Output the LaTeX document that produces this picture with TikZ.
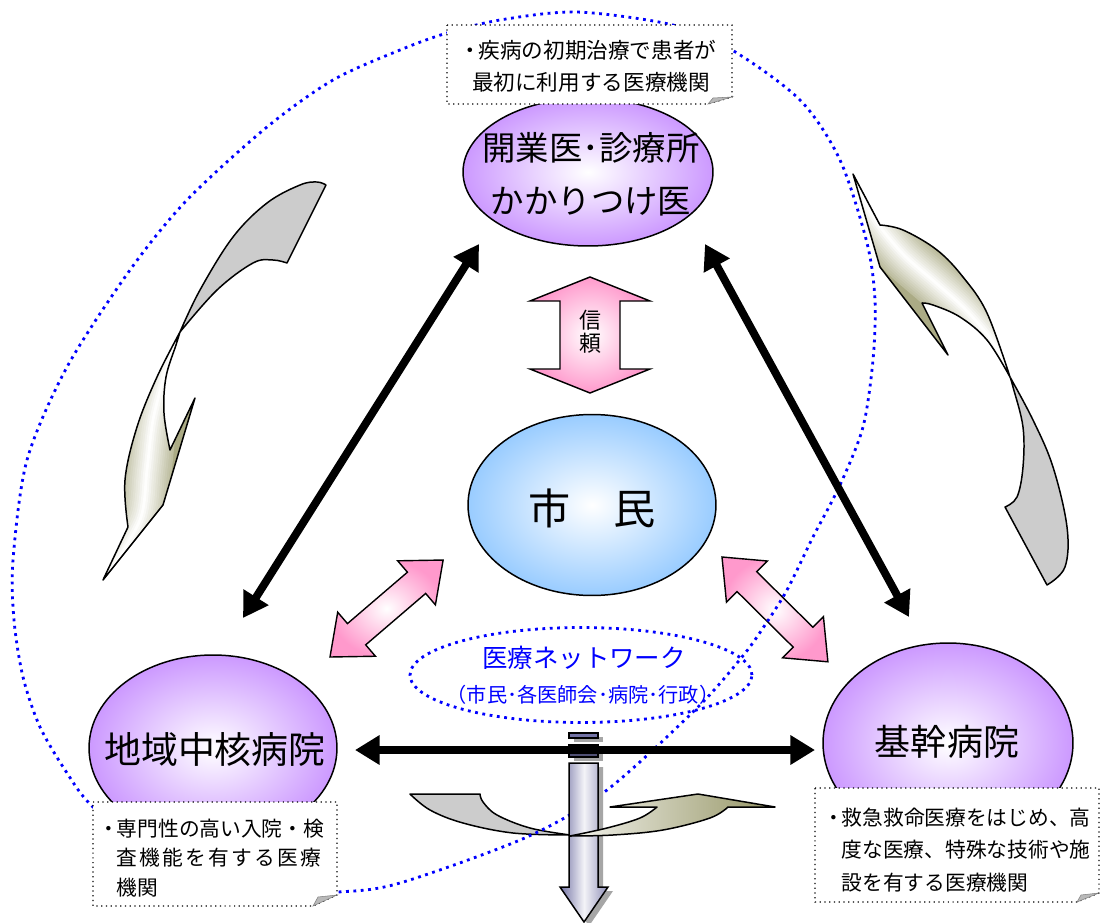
\documentclass[tikz,border=0pt]{standalone}
\usepackage{fontspec}
\setmainfont{Noto Sans CJK JP}
\usetikzlibrary{shapes.geometric,arrows.meta}
\definecolor{purp}{RGB}{204,153,255}
\definecolor{skyb}{RGB}{153,204,255}
\definecolor{pinkc}{RGB}{255,153,204}
\definecolor{olv}{RGB}{150,150,102}
\definecolor{grayc}{RGB}{204,204,204}
\definecolor{slate}{RGB}{115,115,165}
\definecolor{netblue}{RGB}{0,0,255}
\newcommand{\bul}{\makebox[0.6em][l]{\hspace*{-0.3em}・}}
\newcommand{\blockdbl}[6]{%
  \begin{scope}[shift={#1},rotate=#2]
    \shadedraw[pinkarr] (0,0) -- (#4,#5) -- (#4,#6) -- ({#3-#4},#6) -- ({#3-#4},#5) -- (#3,0)
      -- ({#3-#4},-#5) -- ({#3-#4},-#6) -- (#4,-#6) -- (#4,-#5) -- cycle;
  \end{scope}}
\def\lgreenpath{(180,332) -- plot[smooth,tension=0.6] coordinates {(180,332) (157,377) (137,427) (125,480) (128,527)} -- (103,580) -- (163,505) -- (195,398) -- (170,450) -- plot[smooth,tension=0.6] coordinates {(170,450) (164,413) (166,377) (176,345) (180,332)} -- cycle}
\def\rgreenpath{(853,174) -- (880,225) -- plot[smooth,tension=0.6] coordinates {(880,225) (903,230) (937,250) (963,277) (987,313) (1010,377)} -- plot[smooth,tension=0.6] coordinates {(1010,377) (987,340) (960,317) (933,305) (922,303)} -- (948,355) -- (880,267) -- cycle}
\def\vpath{(569,763) -- (598,763) -- (598,887) -- (608,887) -- (584,922) -- (560,887) -- (569,887) -- cycle}
\newcommand{\chsp}{\hspace{1.3pt}}
\begin{document}
\begin{tikzpicture}[x=0.02cm,y=-0.02cm,
  bigell/.style={ellipse, draw, line width=0.85pt, inner sep=0pt, inner color=white, outer color=purp},
  bluell/.style={ellipse, draw, line width=0.85pt, inner sep=0pt, inner color=white, outer color=skyb},
  blk/.style={line width=4.5pt, {Triangle[length=14pt,width=16pt]}-{Triangle[length=14pt,width=16pt]}},
  pinkarr/.style={draw, line width=0.8pt, line join=miter, inner color=white, outer color=pinkc},
  swoosh/.style={draw, line width=0.85pt, line join=round},
  netdots/.style={draw=netblue, line width=1.6pt, dash pattern=on 1.6pt off 2.6pt},
  callout/.style={draw, fill=white, line width=0.7pt, dotted},
  fold/.style={fill=gray!55, draw=gray, line width=0.3pt},
  labtxt/.style={inner sep=0pt, text=black},
  band/.style={line cap=round, line join=round},
]
\useasboundingbox (0,0) rectangle (1100,923);
\fill[white] (0,0) rectangle (1100,923);

% ---- left big swoosh
\draw[swoosh, fill=grayc] (326,185) -- (287,263) -- plot[smooth,tension=0.6] coordinates {(287,263) (273,260) (253,263) (217,290) (180,332)} -- plot[smooth,tension=0.6] coordinates {(180,332) (200,290) (233,237) (267,203) (300,185) (317,182) (326,185)} -- cycle;
\begin{scope}
  \clip \lgreenpath;
  \fill[white!20!olv] (90,320) rectangle (210,590);
  \foreach \i [evaluate=\i as \w using 28-2.4*\i, evaluate=\i as \p using int(38+5.6*\i)] in {0,...,11}
    \draw[band, line width=\w pt, color=white!\p!olv] plot[smooth] coordinates {(182,322) (166,370) (153,420) (147,470) (140,520) (105,580)};
\end{scope}
\draw[swoosh] \lgreenpath;

% ---- right big swoosh
\draw[swoosh, fill=grayc] (1010,377) -- plot[smooth,tension=0.6] coordinates {(1010,377) (1033,420) (1053,467) (1067,527) (1065,567) (1047,585)} -- (1005,507) -- plot[smooth,tension=0.6] coordinates {(1005,507) (1017,497) (1023,467) (1023,427) (1013,387) (1010,377)} -- cycle;
\begin{scope}
  \clip \rgreenpath;
  \fill[white!20!olv] (840,160) rectangle (1020,390);
  \foreach \i [evaluate=\i as \w using 28-2.4*\i, evaluate=\i as \p using int(38+5.6*\i)] in {0,...,11}
    \draw[band, line width=\w pt, color=white!\p!olv] plot[smooth] coordinates {(850,168) (872,215) (902,253) (936,283) (966,310) (995,345) (1014,385)};
\end{scope}
\draw[swoosh] \rgreenpath;

% ---- ellipses
\node[bigell, minimum width=5cm, minimum height=2.96cm] (clinic) at (588,172) {};
\node[bluell, minimum width=4.96cm, minimum height=3.62cm] (citizen) at (592,505) {};
\node[bigell, minimum width=4.96cm, minimum height=3.72cm] (region) at (213,748) {};
\node[bigell, minimum width=5cm, minimum height=4cm] (core) at (948,743) {};

\node[labtxt, font=\fontsize{19}{30}\selectfont, align=center] (clinicTxt) at (591,174) {開業医･診療所\\かかりつけ医};
\node[labtxt, font=\fontsize{24}{24}\selectfont] (citizenTxt) at (592,508) {市　民};
\node[labtxt, font=\fontsize{21}{21}\selectfont] (regionTxt) at (215,750) {地域中核病院};
\node[labtxt, font=\fontsize{20.5}{20.5}\selectfont] (coreTxt) at (947,742) {基幹病院};

% ---- pink double arrows
\blockdbl{(590,277)}{-90}{116}{24}{60}{30}
\node[labtxt, font=\fontsize{12.5}{13}\selectfont, align=center] (trustTxt) at (590,332) {信\\頼};
\blockdbl{(330,657)}{40.6}{149}{35}{29}{14}
\blockdbl{(722,557)}{-44.7}{149}{35}{29}{14}

% ---- network ellipse
\node[ellipse, netdots, minimum width=6.84cm, minimum height=1.9cm, inner sep=0pt] (net) at (581,675) {};
\node[inner sep=0pt, text=netblue, font=\fontsize{14.5}{14.5}\selectfont] (netTxt) at (584,658) {医療ネットワーク};
\node[inner sep=0pt, text=netblue, font=\fontsize{11.5}{11.5}\selectfont] (netSub) at (583,695) {（市民･各医師会･病院･行政）};

% ---- bottom curved arrow (left, gray)
\draw[swoosh, fill=grayc] (410,794) -- (480,794) -- plot[smooth,tension=0.6] coordinates {(480,794) (483,802) (497,815) (530,828) (570,835)} -- plot[smooth,tension=0.6] coordinates {(570,835) (513,833) (463,823) (430,810) (410,794)} -- cycle;

% ---- big dotted loop
\draw[netdots] plot[smooth cycle, tension=0.5] coordinates {(577,12) (673,25) (732,50) (800,100) (840,160) (867,243) (875,300) (873,360) (863,427) (840,485) (813,537) (787,590) (763,628) (742,657) (697,708) (607,790) (527,837) (400,883) (338,892) (250,893) (160,862) (93,807) (67,773) (40,727) (23,677) (14,620) (13,560) (27,460) (67,367) (130,270) (187,200) (267,127) (333,80) (400,50) (447,33) (500,20)};

% ---- vertical arrow
\fill[gray!70, shift={(5,4)}] (569,733) rectangle (598,738);
\fill[gray!70, shift={(5,4)}] (569,745) rectangle (598,757);
\fill[gray!70, shift={(5,4)}] \vpath;
\draw[fill=slate, line width=0.7pt] (569,733) rectangle (598,738);
\draw[fill=slate!70!black, line width=0.7pt] (569,745) rectangle (598,757);
\shadedraw[left color=slate, right color=slate!80, middle color=white!92!slate, line width=0.85pt] \vpath;

% ---- bottom curved arrow (right, green)
\shade[swoosh, left color=white!88!olv, right color=olv] (610,807) -- (698,794) -- (775,807) -- (728,807) -- plot[smooth,tension=0.6] coordinates {(728,807) (710,818) (663,830) (613,835) (570,836)} -- plot[smooth,tension=0.6] coordinates {(570,836) (607,828) (640,818) (657,807)} -- cycle;

% ---- black double arrows
\coordinate (bl1) at (479,244);
\coordinate (bl2) at (243,618);
\coordinate (br1) at (705,244);
\coordinate (br2) at (909,617);
\coordinate (bh1) at (355,750);
\coordinate (bh2) at (815,750);
\draw[blk] (bl1) -- (bl2);
\draw[blk] (br1) -- (br2);
\draw[blk] (bh1) -- (bh2);

% ---- callouts
\draw[callout] (447,25) -- (732,25) -- (732,97) -- (708,104) -- (447,104) -- cycle;
\filldraw[fold] (708,104) -- (732,97) -- (713,98) -- cycle;
\node[labtxt, font=\fontsize{12.3}{18}\selectfont, align=center] (topNote) at (591,66) {\bul 疾病の初期治療で患者が\\最初に利用する医療機関};

\draw[callout] (93,802) -- (337,802) -- (337,895) -- (313,906) -- (93,906) -- cycle;
\filldraw[fold] (313,906) -- (337,895) -- (318,897) -- cycle;
\node[labtxt, font=\fontsize{11.8}{17}\selectfont, align=left, anchor=west] (regionNote) at (104,858) {\bul 専門性の高い入院・検\\\hspace*{0.6em}査\chsp 機\chsp 能\chsp を\chsp 有\chsp す\chsp る\chsp 医\chsp 療\\\hspace*{0.6em}機関};

\draw[callout] (815,788) -- (1099,788) -- (1099,893) -- (1077,902) -- (815,902) -- cycle;
\filldraw[fold] (1077,902) -- (1099,893) -- (1081,895) -- cycle;
\node[labtxt, font=\fontsize{11.8}{18.7}\selectfont, align=left, anchor=west] (coreNote) at (829,850) {\bul 救急救命医療をはじめ、高\\\hspace*{0.6em}度な医療、特殊な技術や施\\\hspace*{0.6em}設を有する医療機関};
\end{tikzpicture}
\end{document}
